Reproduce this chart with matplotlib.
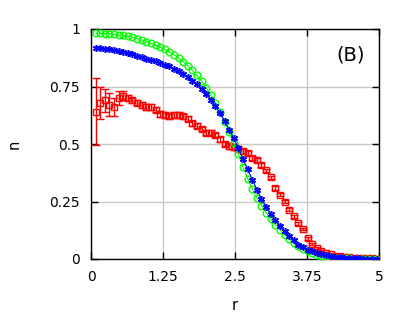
import numpy as np
import matplotlib
matplotlib.use("Agg")
import matplotlib.pyplot as plt

r = np.round(np.arange(1, 63) * 0.08, 2)

green_n = [0.982, 0.981, 0.980, 0.979, 0.977, 0.975, 0.972, 0.968, 0.964, 0.958,
           0.952, 0.945, 0.937, 0.929, 0.920, 0.911, 0.900, 0.888, 0.874, 0.858,
           0.840, 0.820, 0.798, 0.773, 0.745, 0.714, 0.679, 0.640, 0.597, 0.551,
           0.503, 0.455, 0.400, 0.350, 0.305, 0.266, 0.232, 0.202, 0.175, 0.150,
           0.127, 0.105, 0.086, 0.069, 0.055, 0.043, 0.033, 0.025, 0.019, 0.014,
           0.011, 0.008, 0.006, 0.005, 0.004, 0.003, 0.002, 0.002, 0.001, 0.001,
           0.001, 0.001]

blue_n = [0.918, 0.917, 0.915, 0.912, 0.909, 0.905, 0.901, 0.896, 0.890, 0.884,
          0.877, 0.871, 0.866, 0.859, 0.852, 0.845, 0.837, 0.828, 0.817, 0.805,
          0.791, 0.776, 0.759, 0.740, 0.718, 0.693, 0.665, 0.634, 0.600, 0.563,
          0.524, 0.482, 0.435, 0.390, 0.345, 0.302, 0.262, 0.228, 0.196, 0.168,
          0.143, 0.120, 0.100, 0.082, 0.060, 0.051, 0.041, 0.033, 0.026, 0.020,
          0.016, 0.013, 0.010, 0.008, 0.006, 0.005, 0.004, 0.003, 0.002, 0.002,
          0.001, 0.001]

red_n = [0.64, 0.68, 0.69, 0.67, 0.66, 0.70, 0.71, 0.70, 0.69, 0.68,
         0.67, 0.66, 0.66, 0.65, 0.63, 0.625, 0.62, 0.625, 0.625, 0.62,
         0.61, 0.59, 0.58, 0.565, 0.55, 0.55, 0.54, 0.52, 0.50, 0.49,
         0.485, 0.48, 0.47, 0.46, 0.44, 0.43, 0.41, 0.385, 0.355, 0.31,
         0.28, 0.25, 0.215, 0.185, 0.155, 0.13, 0.09, 0.065, 0.048, 0.035,
         0.026, 0.020, 0.015, 0.012, 0.010, 0.008, 0.006, 0.005, 0.004, 0.003,
         0.003, 0.002]

red_err = [0.145, 0.07, 0.05, 0.05, 0.04, 0.03, 0.02, 0.015, 0.012, 0.012,
           0.012, 0.012, 0.012, 0.012, 0.012, 0.012, 0.012, 0.012, 0.012, 0.012,
           0.010, 0.010, 0.010, 0.010, 0.010, 0.010, 0.010, 0.010, 0.010, 0.010,
           0.010, 0.010, 0.008, 0.008, 0.008, 0.008, 0.008, 0.008, 0.008, 0.008,
           0.008, 0.008, 0.008, 0.008, 0.006, 0.006, 0.006, 0.005, 0.005, 0.004,
           0.004, 0.003, 0.003, 0.003, 0.002, 0.002, 0.002, 0.002, 0.002, 0.002,
           0.002, 0.002]

xticks = [0, 1.25, 2.5, 3.75, 5]
xticklabels = ["0", "1.25", "2.5", "3.75", "5"]
yticks = [0, 0.25, 0.5, 0.75, 1]
yticklabels = ["0", "0.25", "0.5", "0.75", "1"]

fig = plt.figure(figsize=(4.07, 3.25), dpi=100)
ax = fig.add_axes([91/407, 1 - 259/325, 288/407, 230/325])

ax.errorbar(r, red_n, yerr=red_err, fmt='s', color='#ff0000', mfc='none',
            mec='#ff0000', ms=4.5, mew=1.0, elinewidth=1.0, capsize=3,
            capthick=1.0, zorder=3)
ax.plot(r, green_n, '-o', color='#00ff00', mfc='none', ms=4.8, mew=1.0, lw=0.8, zorder=4)
ax.plot(r, blue_n, '-', color='#0000ff', lw=0.8, zorder=5)
ax.plot(r, blue_n, linestyle='none', marker=(6, 2, 0), color='#0000ff', ms=5, mew=1.1, zorder=5)

ax.set_xlim(0, 5)
ax.set_ylim(0, 1)
ax.set_xticks(xticks)
ax.set_xticklabels(xticklabels)
ax.set_yticks(yticks)
ax.set_yticklabels(yticklabels)
ax.grid(True, color='#c8c8c8', lw=1.0)
ax.set_axisbelow(True)
ax.tick_params(direction='in', top=True, right=True, length=5, width=1,
               labelsize=10, pad=8)
for s in ax.spines.values():
    s.set_linewidth(1.0)
ax.set_xlabel('r', fontsize=10.5, labelpad=10)
ax.set_ylabel('n', fontsize=10.5, labelpad=20)
ax.text(0.95, 0.93, '(B)', transform=ax.transAxes, ha='right', va='top', fontsize=14)

fig.savefig('out.png', dpi=100)
